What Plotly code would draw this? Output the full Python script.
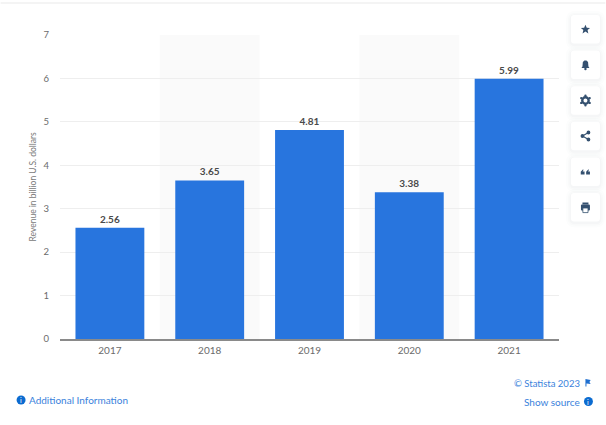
import plotly.graph_objects as go

years = ["2017", "2018", "2019", "2020", "2021"]
revenue = [2.56, 3.65, 4.81, 3.38, 5.99]
y_ticks = [0, 1, 2, 3, 4, 5, 6, 7]
shaded_years = [1, 3]

W, H = 606, 425
LEFT, RIGHT, TOP, BOTTOM = 59.5, 559.5, 35, 339
BAR = "#2875de"
LINK = "#3a82dc"
NAVY = "#34506f"
FONT = "Lato, 'Open Sans', sans-serif"


def px(x):
    return (x - LEFT) / (RIGHT - LEFT)


def py(y):
    return (BOTTOM - y) / (BOTTOM - TOP)


def rounded(x0, y0, x1, y1, r):
    return (
        f"M{px(x0 + r)},{py(y0)} L{px(x1 - r)},{py(y0)} "
        f"Q{px(x1)},{py(y0)} {px(x1)},{py(y0 + r)} L{px(x1)},{py(y1 - r)} "
        f"Q{px(x1)},{py(y1)} {px(x1 - r)},{py(y1)} L{px(x0 + r)},{py(y1)} "
        f"Q{px(x0)},{py(y1)} {px(x0)},{py(y1 - r)} L{px(x0)},{py(y0 + r)} "
        f"Q{px(x0)},{py(y0)} {px(x0 + r)},{py(y0)} Z"
    )


def poly(cx, cy, pts):
    return "M" + " L".join(f"{px(cx + a)},{py(cy + b)}" for a, b in pts) + " Z"


def circle(cx, cy, r):
    return dict(type="circle", xref="paper", yref="paper",
                x0=px(cx - r), x1=px(cx + r), y0=py(cy + r), y1=py(cy - r))


shapes = []

# alternating column bands behind the bars
for i in shaded_years:
    shapes.append(dict(type="rect", xref="x", yref="paper", layer="below",
                       x0=i - 0.5, x1=i + 0.5, y0=0, y1=1,
                       fillcolor="#fafafa", line_width=0))

# thin rule along the top of the page
shapes.append(dict(type="line", xref="paper", yref="paper",
                   x0=px(0), x1=px(W), y0=py(3), y1=py(3),
                   line=dict(color="#f4f4f4", width=2)))

# toolbar buttons with a soft shadow
button_tops = [15, 50.6, 86.2, 121.8, 157.4, 193]
for top in button_tops:
    for grow, alpha in ((5, 0.012), (3, 0.016), (1.5, 0.02)):
        shapes.append(dict(type="path", xref="paper", yref="paper",
                           path=rounded(571.5 - grow, top - grow + 1, 600.5 + grow, top + 28.5 + grow + 1, 4 + grow),
                           fillcolor=f"rgba(40,60,90,{alpha})", line_width=0))
    shapes.append(dict(type="path", xref="paper", yref="paper",
                       path=rounded(571.5, top, 600.5, top + 28.5, 3),
                       fillcolor="#ffffff", line_width=0))

ICON_X = 586
# star
shapes.append(dict(type="path", xref="paper", yref="paper", fillcolor=NAVY, line_width=0,
                   path=poly(ICON_X, 29.3, [(0, -4.6), (1.3, -1.5), (4.6, -1.4), (2.1, 0.8), (2.9, 4.1),
                                            (0, 2.3), (-2.9, 4.1), (-2.1, 0.8), (-4.6, -1.4), (-1.3, -1.5)])))
# bell
shapes.append(dict(type="path", xref="paper", yref="paper", fillcolor=NAVY, line_width=0,
                   path=poly(ICON_X, 65, [(-1, -4.6), (1, -4.6), (2.6, -3), (3, 1.6), (4, 3), (-4, 3), (-3, 1.6), (-2.6, -3)])))
shapes.append({**circle(ICON_X, 69, 1.2), "fillcolor": NAVY, "line_width": 0})
# gear: ring plus six short teeth
GEAR_Y = 100.5
for a, b in ((0, -4.8), (4.2, -2.4), (4.2, 2.4), (0, 4.8), (-4.2, 2.4), (-4.2, -2.4)):
    shapes.append({**circle(ICON_X + a, GEAR_Y + b, 1.2), "fillcolor": NAVY, "line_width": 0})
shapes.append({**circle(ICON_X, GEAR_Y, 3.2), "fillcolor": "#ffffff", "line": dict(color=NAVY, width=2.4)})
# share
for cx, cy in ((589, 132.5), (583, 136), (589, 139.5)):
    shapes.append({**circle(cx, cy, 1.9), "fillcolor": NAVY, "line_width": 0})
shapes.append(dict(type="path", xref="paper", yref="paper", line=dict(color=NAVY, width=1.1),
                   path=f"M{px(589)},{py(132.5)} L{px(583)},{py(136)} L{px(589)},{py(139.5)}"))
# quotation marks
for cx in (583.2, 588.6):
    shapes.append(dict(type="path", xref="paper", yref="paper", fillcolor=NAVY, line_width=0,
                       path=poly(cx, 172, [(-1.9, -0.2), (0.2, -2.6), (1, -2.2), (0, -0.4), (1.9, -0.4), (1.9, 2.6), (-1.9, 2.6)])))
# printer
shapes.append(dict(type="path", xref="paper", yref="paper", fillcolor=NAVY, line_width=0,
                   path=rounded(581.5, 204.5, 590.5, 210.5, 1)))
shapes.append(dict(type="rect", xref="paper", yref="paper", fillcolor=NAVY, line_width=0,
                   x0=px(583), x1=px(589), y0=py(204.5), y1=py(202.5)))
shapes.append(dict(type="rect", xref="paper", yref="paper", fillcolor="#ffffff", line=dict(color=NAVY, width=0.8),
                   x0=px(583.4), x1=px(588.6), y0=py(212.6), y1=py(208)))

# footer icons
info_icons = [(20.5, 400), (589, 401.5)]
for cx, cy in info_icons:
    shapes.append({**circle(cx, cy, 4.5), "fillcolor": "#0b6bd0", "line_width": 0})
shapes.append(dict(type="path", xref="paper", yref="paper", fillcolor="#1f6fd0", line_width=0,
                   path=poly(586, 382.5, [(0, -3.6), (5.2, -2.4), (4, -0.4), (5.2, 1.6), (1, 1), (1, 4), (0, 4)])))


def note(x, y, text, anchor="left", size=10, color=LINK, **kw):
    return dict(x=px(x), y=py(y), xref="paper", yref="paper", text=text, showarrow=False,
                xanchor=anchor, yanchor="middle",
                font=dict(family=FONT, size=size, color=color), **kw)


annotations = [
    note(26.5, 400, "Additional Information"),
    note(582.5, 383, "© Statista 2023", anchor="right", size=9.5),
    note(582.5, 401.5, "Show source", anchor="right"),
    note(20.5, 400, "i", anchor="center", size=7, color="#ffffff"),
    note(589, 401.5, "i", anchor="center", size=7, color="#ffffff"),
    note(32, 187, "Revenue in billion U.S. dollars", anchor="center", size=8.5, color="#7a7a7a", textangle=-90),
]

fig = go.Figure(go.Bar(
    x=years,
    y=revenue,
    width=0.69,
    marker=dict(color=BAR, line_width=0),
    text=[f"{v:.2f}" for v in revenue],
    textposition="outside",
    cliponaxis=False,
    textfont=dict(family=FONT, size=10, color="#4a4a4a", weight="bold"),
    hoverinfo="skip",
))

fig.update_layout(
    width=W,
    height=H,
    margin=dict(l=LEFT, r=W - RIGHT, t=TOP, b=H - BOTTOM),
    autosize=False,
    paper_bgcolor="#ffffff",
    plot_bgcolor="rgba(0,0,0,0)",
    showlegend=False,
    shapes=shapes,
    annotations=annotations,
    xaxis=dict(
        automargin=False,
        type="category",
        categoryorder="array",
        categoryarray=years,
        range=[-0.5, 4.5],
        showgrid=False,
        showline=True,
        linecolor="#8a8a8a",
        linewidth=2,
        ticks="",
        ticklabelstandoff=1,
        tickfont=dict(family=FONT, size=10, color="#6b6b6b"),
    ),
    yaxis=dict(
        automargin=False,
        range=[0, 7],
        tickvals=y_ticks,
        ticktext=[str(t) for t in y_ticks],
        showgrid=True,
        gridcolor="#eeeeee",
        gridwidth=1,
        zeroline=False,
        ticks="",
        ticklabelstandoff=10,
        tickfont=dict(family=FONT, size=9.5, color="#6b6b6b"),
    ),
)

fig.write_html("out.html", config=dict(displayModeBar=False))
